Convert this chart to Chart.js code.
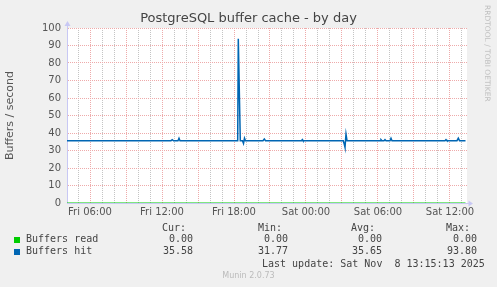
<!DOCTYPE html>
<html>
<head>
<meta charset="utf-8">
<title>PostgreSQL buffer cache - by day</title>
<script src="https://cdn.jsdelivr.net/npm/chart.js@4.4.0/dist/chart.umd.min.js"></script>
<style>
  body { margin: 0; background: #f0f0f0; }
  #wrap { position: relative; width: 497px; height: 287px; overflow: hidden; background: #f0f0f0;
          font-family: "DejaVu Sans", sans-serif; color: #555; }
  #graph { position: absolute; left: 0; top: 0; }
  .t { position: absolute; white-space: pre; }
  .mono { font-family: "DejaVu Sans Mono", monospace; font-size: 10px; line-height: 12px; color: #444; }
  .sw { position: absolute; width: 6px; height: 6px; }
  #title { left: 0; top: 10px; width: 497px; text-align: center; font-size: 13px; line-height: 15px; color: #444; }
  #rrd { left: 491px; top: 5px; font-size: 7.5px; line-height: 8px; color: #c0c0c0;
         transform-origin: 0 0; transform: rotate(90deg); }
  #munin { left: 0; top: 271px; width: 497px; text-align: center; font-size: 8px; line-height: 10px; color: #bbb; }
</style>
</head>
<body>
<div id="wrap">
  <canvas id="graph" width="497" height="287"></canvas>
  <div class="t" id="title">PostgreSQL buffer cache - by day</div>
  <div class="t" id="rrd">RRDTOOL / TOBI OETIKER</div>
  <div class="t" id="munin">Munin 2.0.73</div>
  <div id="legend"></div>
</div>
<script>
// hours since Fri 00:00
const readHours = [4.083, 37.292];
const readValues = [0, 0];

const hitHours = [4.083, 12.75, 12.858, 12.958, 13.333, 13.417, 13.5,
  18.308, 18.358, 18.525, 18.708, 18.792, 18.875, 18.958,
  20.417, 20.525, 20.625, 23.625, 23.692, 23.75,
  27.108, 27.192, 27.25, 27.333, 27.417,
  30.167, 30.25, 30.333, 30.5, 30.583, 30.667, 31.0, 31.083, 31.167,
  35.583, 35.667, 35.75, 36.583, 36.692, 36.792, 37.292];
const hitValues = [35.6, 35.6, 36.2, 35.6, 35.6, 37.0, 35.6,
  35.6, 93.8, 35.6, 35.6, 34.0, 37.0, 35.6,
  35.6, 36.6, 35.6, 35.6, 36.2, 35.6,
  35.6, 33.5, 31.8, 39.4, 35.6,
  35.6, 36.2, 35.6, 35.6, 36.2, 35.6, 35.6, 37.0, 35.6,
  35.6, 36.2, 35.6, 35.6, 37.0, 35.6, 35.6];

const xLabelHours = [6, 12, 18, 24, 30, 36];
const xLabels = ['Fri 06:00', 'Fri 12:00', 'Fri 18:00', 'Sat 00:00', 'Sat 06:00', 'Sat 12:00'];

const seriesNames = ['Buffers read', 'Buffers hit'];
const curValues = ['0.00', '35.58'];
const minValues = ['0.00', '31.77'];
const avgValues = ['0.00', '35.65'];
const maxValues = ['0.00', '93.80'];
const lastUpdate = 'Last update: Sat Nov  8 13:15:13 2025';

const colors = ['#00cc00', '#0066b3'];
const axisColor = '#c8c8f4';
const majorGrid = '#eeaaaa';
const minorGrid = '#c4c4c4';

function pts(xs, ys) { return xs.map((x, i) => ({ x: x, y: ys[i] })); }

// white plot area
const plotBg = {
  id: 'plotBg',
  beforeDraw(chart) {
    const { ctx, chartArea: a } = chart;
    ctx.save();
    ctx.fillStyle = '#ffffff';
    ctx.fillRect(a.left, a.top, a.right - a.left, a.bottom - a.top);
    ctx.restore();
  }
};

// little arrows at the end of the axes
const axisArrows = {
  id: 'axisArrows',
  afterDraw(chart) {
    const { ctx, chartArea: a } = chart;
    const x0 = Math.round(a.left) + 0.5, y0 = Math.round(a.bottom) + 0.5;
    ctx.save();
    ctx.fillStyle = axisColor;
    ctx.strokeStyle = axisColor;
    ctx.lineWidth = 1;
    ctx.beginPath(); ctx.moveTo(x0, a.top); ctx.lineTo(x0, a.top - 3); ctx.stroke();
    ctx.beginPath(); ctx.moveTo(x0, a.top - 7); ctx.lineTo(x0 - 3, a.top - 2); ctx.lineTo(x0 + 3, a.top - 2); ctx.closePath(); ctx.fill();
    ctx.beginPath(); ctx.moveTo(a.right, y0); ctx.lineTo(a.right + 2, y0); ctx.stroke();
    ctx.beginPath(); ctx.moveTo(a.right + 6, y0); ctx.lineTo(a.right + 1.5, y0 - 3); ctx.lineTo(a.right + 1.5, y0 + 3); ctx.closePath(); ctx.fill();
    ctx.restore();
  }
};

new Chart(document.getElementById('graph'), {
  type: 'line',
  data: {
    datasets: [
      { label: seriesNames[1], data: pts(hitHours, hitValues), borderColor: colors[1], borderWidth: 1.5 },
      { label: seriesNames[0], data: pts(readHours, readValues), borderColor: colors[0], borderWidth: 1 }
    ]
  },
  options: {
    responsive: false,
    devicePixelRatio: 1,
    animation: false,
    events: [],
    elements: { point: { radius: 0 }, line: { tension: 0 } },
    layout: { padding: { top: 28, right: 30, bottom: 0, left: 0 } },
    plugins: { legend: { display: false }, tooltip: { enabled: false } },
    scales: {
      x: {
        type: 'linear',
        min: 4.083,
        max: 37.417,
        afterBuildTicks(scale) {
          const t = [];
          for (let h = 5; h <= 37; h++) t.push({ value: h });
          scale.ticks = t;
        },
        afterFit(scale) { scale.height = 84; },
        ticks: {
          autoSkip: false, maxRotation: 0, minRotation: 0, padding: 3,
          color: '#555', font: { family: 'DejaVu Sans', size: 10 },
          callback(v) {
            const i = xLabelHours.indexOf(v);
            return i >= 0 ? xLabels[i] : '';
          }
        },
        grid: {
          drawTicks: false,
          color(ctx) { return ctx.tick.value % 3 === 0 ? majorGrid : minorGrid; }
        },
        border: { color: axisColor, dash: [1, 1] }
      },
      y: {
        min: 0,
        max: 100,
        afterBuildTicks(scale) {
          const t = [];
          for (let v = 0; v <= 100; v += 5) t.push({ value: v });
          scale.ticks = t;
        },
        afterFit(scale) { scale.width = 67; },
        ticks: {
          padding: 6, color: '#555', font: { family: 'DejaVu Sans', size: 10 },
          callback(v) { return v % 10 === 0 ? String(v) : ''; }
        },
        grid: {
          drawTicks: false,
          color(ctx) {
            const v = ctx.tick.value;
            if (v === 0) return 'rgba(0,0,0,0)';
            return v % 10 === 0 ? majorGrid : minorGrid;
          }
        },
        border: { color: axisColor, dash: [1, 1] },
        title: { display: true, text: 'Buffers / second', color: '#555', font: { family: 'DejaVu Sans', size: 11 } }
      }
    }
  },
  plugins: [plotBg, axisArrows]
});

// legend table under the graph
(function () {
  const box = document.getElementById('legend');
  function cell(text, right, top) {
    const d = document.createElement('div');
    d.className = 't mono';
    d.style.left = (right - 80) + 'px';
    d.style.width = '80px';
    d.style.textAlign = 'right';
    d.style.top = top + 'px';
    d.textContent = text;
    box.appendChild(d);
  }
  const heads = ['Cur:', 'Min:', 'Avg:', 'Max:'];
  const headRight = [186, 282, 375, 470];
  const valRight = [193, 288, 382, 477];
  const cols = [curValues, minValues, avgValues, maxValues];
  heads.forEach((h, i) => cell(h, headRight[i], 222));
  seriesNames.forEach((name, r) => {
    const top = 233 + r * 12;
    const sw = document.createElement('div');
    sw.className = 'sw';
    sw.style.left = '14px';
    sw.style.top = (top + 4) + 'px';
    sw.style.background = colors[r];
    box.appendChild(sw);
    const lab = document.createElement('div');
    lab.className = 't mono';
    lab.style.left = '26px';
    lab.style.top = top + 'px';
    lab.textContent = name;
    box.appendChild(lab);
    cols.forEach((c, i) => cell(c[r], valRight[i], top));
  });
  const lu = document.createElement('div');
  lu.className = 't mono';
  lu.style.left = '262px';
  lu.style.top = '258px';
  lu.textContent = lastUpdate;
  box.appendChild(lu);
})();
</script>
</body>
</html>
